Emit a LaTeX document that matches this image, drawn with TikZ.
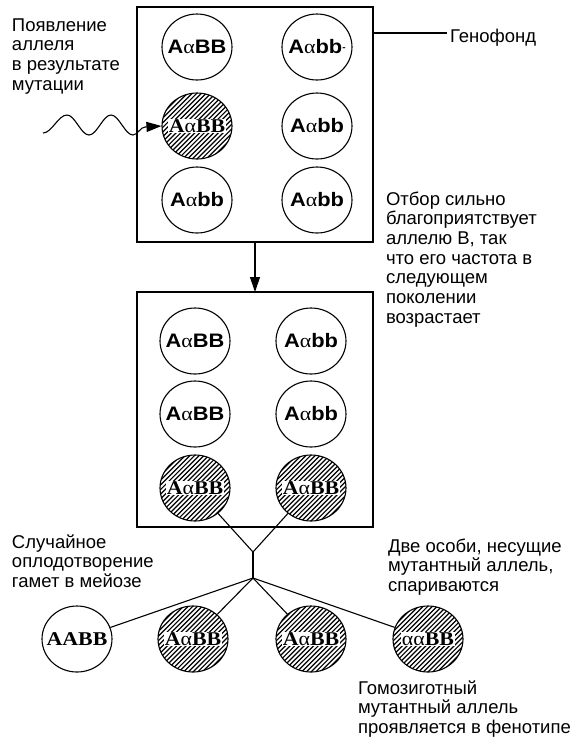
\documentclass[tikz,border=0pt]{standalone}
\usepackage{fontspec}
\usepackage{graphicx}
\setmainfont{Liberation Sans}
\newfontfamily\serifR{Liberation Serif}
\usetikzlibrary{arrows.meta,shapes.geometric}
\setlength{\fboxsep}{0.6pt}
\newcommand\firstln{\rule{0pt}{15pt}}
\newcommand\wide[1]{\makebox[0pt]{\scalebox{1.12}[1]{#1}}}
\newcommand\gSAaBB{\wide{\textbf{A}{\serifR α}\textbf{BB}}}
\newcommand\gSAabb{\wide{\textbf{A}{\serifR α}\textbf{bb}}}
\newcommand\gHAaBB{\wide{\colorbox{white}{{\serifR\bfseries A}{\serifR α}{\serifR\bfseries BB}}}}
\newcommand\gAABB{\wide{{\serifR\bfseries AABB}}}
\newcommand\gHaaBB{\wide{\colorbox{white}{{\serifR αα}{\serifR\bfseries BB}}}}
\begin{document}
\begin{tikzpicture}[x=1pt,y=1pt,
  cell/.style={ellipse, draw, line width=1.1pt, minimum width=70pt, minimum height=66pt,
     inner sep=0pt, fill=white, font=\fontsize{19.5}{20}\selectfont},
  hatch/.style={path picture={
     \foreach \k in {-16,...,16}{
       \draw[line width=1.2pt] ([xshift=\k*4.7pt-45pt,yshift=-45pt]path picture bounding box.center) -- ++(90pt,90pt);}}},
  mut/.style={cell, hatch},
  pool/.style={draw, line width=1.8pt, minimum width=236pt, minimum height=235pt,
     anchor=north west, inner sep=0pt, outer sep=0pt},
  lbl/.style={align=left, anchor=north west, inner sep=0pt, outer sep=0pt,
     font=\fontsize{18.5}{19.7}\selectfont},
  conn/.style={line width=1.1pt},
  tip/.style={-{Triangle[length=15pt,width=10pt]}}
]
\useasboundingbox (0,0) rectangle (575,-740);
\fill[white] (0,0) rectangle (575,-740);

% gene pools
\node[pool] (pool1) at (137,-7) {};
\node[pool] (pool2) at (137,-292) {};

% first generation
\node[cell] (a1) at (197,-47) {\gSAaBB};
\node[cell] (a2) at (317,-47) {\wide{\textbf{A}{\serifR α}\textbf{bb}\raisebox{3pt}{\fontsize{9}{9}\selectfont\bfseries -}}};
\node[mut]  (a3) at (197,-126) {\gHAaBB};
\node[cell] (a4) at (317,-126) {\gSAabb};
\node[cell] (a5) at (197,-200) {\gSAabb};
\node[cell] (a6) at (317,-200) {\gSAabb};

% second generation
\node[cell] (b1) at (195,-341) {\gSAaBB};
\node[cell] (b2) at (311,-341) {\gSAabb};
\node[cell] (b3) at (195,-414) {\gSAaBB};
\node[cell] (b4) at (311,-414) {\gSAabb};
\node[mut]  (b5) at (195,-488) {\gHAaBB};
\node[mut]  (b6) at (311,-488) {\gHAaBB};

% offspring
\node[cell] (c1) at (77,-639) {\gAABB};
\node[mut]  (c2) at (193,-639) {\gHAaBB};
\node[mut]  (c3) at (311,-639) {\gHAaBB};
\node[mut]  (c4) at (428,-639) {\gHaaBB};

% connectors
\draw[conn,tip] (pool1.south) -- (pool2.north);
\coordinate (w0) at (43,-133);
\draw[conn,tip] (w0) cos (55,-124) sin (67,-115) cos (78,-125) sin (89,-135)
   cos (100,-125) sin (111,-115) cos (122,-125) sin (133,-135)
   cos (139,-131) sin (145,-127) -- (a3.west);
\coordinate (j1) at (253,-552);
\coordinate (j2) at (253,-578);
\draw[conn] (b5) -- (j1) -- (b6);
\draw[conn] (j1) -- (j2);
\foreach \n in {c1,c2,c3,c4} \draw[conn] (j2) -- (\n);

% labels
\node[lbl] (tmut) at (12,-16) {\firstln Появление\\аллеля\\в результате\\мутации};
\node[lbl] (tgen) at (450,-27) {\firstln Генофонд};
\coordinate (gl) at (447,-33);
\draw[conn] (gl) -- (gl -| pool1.east);
\node[lbl] (tsel) at (386,-190) {\firstln Отбор сильно\\благоприятствует\\аллелю В, так\\что его частота в\\следующем\\поколении\\возрастает};
\node[lbl] (tfert) at (12,-533) {\firstln Случайное\\оплодотворение\\гамет в мейозе};
\node[lbl] (tpair) at (388,-537) {\firstln Две особи, несущие\\мутантный аллель,\\спариваются};
\node[lbl] (thomo) at (358,-679) {\firstln Гомозиготный\\мутантный аллель\\проявляется в фенотипе};
\end{tikzpicture}
\end{document}
